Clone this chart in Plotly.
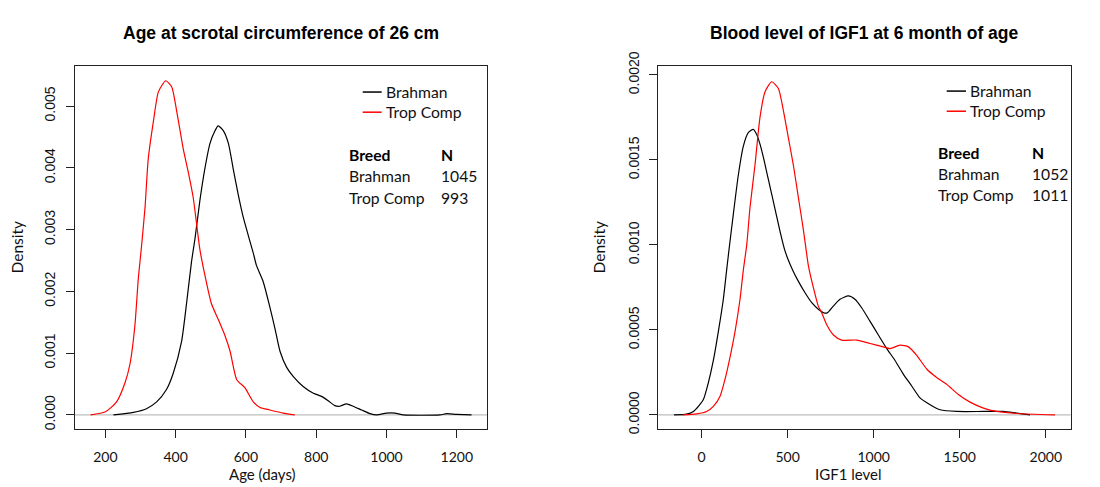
import plotly.graph_objects as go

# ---------------- Data ----------------
# Left panel: Age at scrotal circumference of 26 cm
age_brahman_x = [223, 280, 317, 346, 374, 393, 417, 431, 445, 455, 469, 483, 498, 512, 521,
                 536, 550, 564, 578, 592, 607, 621, 630, 649, 668, 683, 697, 716, 735, 763,
                 792, 815, 834, 853, 867, 886, 905, 929, 953, 972, 1000, 1024, 1048, 1152,
                 1171, 1199, 1242]
age_brahman_y = [0.0, 0.00004, 0.0001, 0.00021, 0.00041, 0.00067, 0.00119, 0.0018, 0.00247,
                 0.00285, 0.00347, 0.00398, 0.0044, 0.0046, 0.00468, 0.0046, 0.0044, 0.00398,
                 0.00357, 0.00321, 0.0029, 0.00262, 0.00242, 0.00216, 0.00175, 0.00139,
                 0.00103, 0.00077, 0.00062, 0.00046, 0.00035, 0.0003, 0.00023, 0.00015,
                 0.00014, 0.00018, 0.00014, 0.00008, 0.00002, 0.0, 0.00003, 0.00003, 0.0,
                 0.0, 0.00002, 0.00001, 0.0]
age_trop_x = [158, 200, 232, 256, 270, 284, 294, 303, 313, 322, 337, 351, 372, 389, 403,
              422, 436, 450, 469, 483, 502, 521, 540, 555, 574, 597, 621, 640, 668, 706, 739]
age_trop_y = [0.0, 0.00005, 0.00021, 0.00052, 0.00082, 0.00144, 0.00222, 0.00273, 0.00336,
              0.00414, 0.00476, 0.00523, 0.00541, 0.00531, 0.00492, 0.0043, 0.00393, 0.00352,
              0.00268, 0.00227, 0.0018, 0.00155, 0.00129, 0.00103, 0.00057, 0.00044, 0.00021,
              0.00012, 0.00008, 0.00003, 0.0]

# Right panel: Blood level of IGF1 at 6 month of age
igf_brahman_x = [-161, -87, -48, -19, 10, 39, 68, 97, 126, 145, 160, 184, 213, 242, 271, 300,
                 320, 340, 360, 380, 400, 420, 440, 460, 480, 500, 530, 560, 600, 640, 680,
                 710, 730, 765, 804, 853, 891, 930, 979, 1027, 1076, 1124, 1172, 1221, 1269,
                 1328, 1386, 1483, 1638, 1754, 1831, 1909]
igf_brahman_y = [0.0, 0.000004, 0.00002, 0.00005, 0.00009, 0.00019, 0.00032, 0.00049, 0.00068,
                 0.00085, 0.00098, 0.00118, 0.00141, 0.00158, 0.00166, 0.00168, 0.00165,
                 0.00159, 0.00151, 0.00142, 0.00133, 0.00124, 0.00115, 0.00106, 0.00098,
                 0.00092, 0.00085, 0.00079, 0.00072, 0.00066, 0.00062, 0.0006, 0.0006,
                 0.00064, 0.00068, 0.0007, 0.00068, 0.00063, 0.00055, 0.00047, 0.00039,
                 0.00032, 0.00024, 0.00017, 0.0001, 0.00006, 0.00003, 0.00002, 0.00002,
                 0.00002, 0.00001, 0.0]
igf_trop_x = [-110, -29, 29, 68, 107, 136, 165, 194, 223, 242, 262, 281, 310, 339, 368, 407,
              446, 475, 504, 533, 562, 591, 610, 620, 649, 678, 698, 727, 766, 814, 901, 979,
              1056, 1095, 1153, 1202, 1250, 1308, 1366, 1424, 1492, 1560, 1638, 1715, 1831,
              2054]
igf_trop_y = [0.0, 0.000006, 0.00002, 0.00005, 0.00011, 0.00021, 0.00034, 0.00049, 0.00068,
              0.00085, 0.001, 0.00122, 0.00147, 0.00175, 0.0019, 0.00196, 0.00192, 0.00179,
              0.00163, 0.00147, 0.00128, 0.00109, 0.00095, 0.00088, 0.00075, 0.00064,
              0.0006, 0.00053, 0.00047, 0.00044, 0.00044, 0.00042, 0.0004, 0.00039,
              0.00041, 0.0004, 0.00035, 0.00027, 0.00022, 0.00018, 0.00012, 0.000075,
              0.00004, 0.00002, 0.000008, 0.0]

breeds = ["Brahman", "Trop Comp"]
age_n = [1045, 993]
igf_n = [1052, 1011]
titles = ["Age at scrotal circumference of 26 cm", "Blood level of IGF1 at 6 month of age"]
x_titles = ["Age (days)", "IGF1 level"]
y_title = "Density"

# ---------------- Layout helpers ----------------
W, H = 1100, 487
OFF = 8  # page body margin shifts the figure by 8px; compensate


def px(x):
    return (x - OFF) / W


def py(y):
    return 1 - (y - OFF) / H


ARIAL = "Liberation Sans, Arial, sans-serif"
CAL = "Lato, Open Sans, sans-serif"
colors = ["#000000", "#FF0000"]

fig = go.Figure()
for xs, ys, col, xa, ya in [
    (age_brahman_x, age_brahman_y, colors[0], "x", "y"),
    (age_trop_x, age_trop_y, colors[1], "x", "y"),
    (igf_brahman_x, igf_brahman_y, colors[0], "x2", "y2"),
    (igf_trop_x, igf_trop_y, colors[1], "x2", "y2"),
]:
    fig.add_trace(go.Scatter(x=xs, y=ys, mode="lines",
                             line=dict(color=col, width=1.2, shape="spline", smoothing=0.6),
                             xaxis=xa, yaxis=ya, showlegend=False, hoverinfo="skip"))

box_top, box_bot = 53.3, 431.3
axis_common = dict(showline=True, mirror=True, linecolor="#222", linewidth=1,
                   ticks="outside", ticklen=8, tickcolor="#222", showgrid=False,
                   zeroline=False)

fig.update_layout(
    width=W, height=H, margin=dict(l=0, r=0, t=0, b=0),
    paper_bgcolor="white", plot_bgcolor="white", showlegend=False,
    xaxis=dict(domain=[px(75), px(487)], range=[113.7, 1286], anchor="y",
               tickvals=[200, 400, 600, 800, 1000, 1200],
               tickfont=dict(family=CAL, size=14, color="#111"), ticklabelstandoff=7,
               **axis_common),
    yaxis=dict(domain=[py(box_bot), py(box_top)], range=[-0.000227, 0.005642], anchor="x",
               tickvals=[0, 0.001, 0.002, 0.003, 0.004, 0.005], tickformat=".3f",
               tickangle=-90, tickfont=dict(family=ARIAL, size=14, color="#111"),
               ticklabelstandoff=5, **axis_common),
    xaxis2=dict(domain=[px(658.3), px(1070.7)], range=[-252, 2145], anchor="y2",
                tickvals=[0, 500, 1000, 1500, 2000],
                tickfont=dict(family=CAL, size=14, color="#111"), ticklabelstandoff=7,
                **axis_common),
    yaxis2=dict(domain=[py(box_bot), py(box_top)], range=[-0.0000827, 0.00205], anchor="x2",
                tickvals=[0, 0.0005, 0.001, 0.0015, 0.002], tickformat=".4f",
                tickangle=-90, tickfont=dict(family=ARIAL, size=14, color="#111"),
                ticklabelstandoff=5, **axis_common),
)

shapes = []
annotations = []
# zero reference lines (gray)
for xr, yr in [("x domain", "y"), ("x2 domain", "y2")]:
    shapes.append(dict(type="line", xref=xr, yref=yr, x0=0, x1=1, y0=0, y1=0,
                       line=dict(color="#BEBEBE", width=1.2), layer="below"))

# titles
for cx, t in zip([281, 864], titles):
    annotations.append(dict(text="<b>%s</b>" % t, x=px(cx), y=py(18), xref="paper", yref="paper",
                            showarrow=False, xanchor="center", yanchor="middle",
                            font=dict(family=ARIAL, size=17.5, color="#000")))
# x titles
for cx, t in zip([262, 847.5], x_titles):
    annotations.append(dict(text=t, x=px(cx), y=py(478), xref="paper", yref="paper",
                            showarrow=False, xanchor="center", yanchor="middle",
                            font=dict(family=CAL, size=15, color="#111")))
# y titles
for cx in [17, 599]:
    annotations.append(dict(text=y_title, x=px(cx), y=py(242), xref="paper", yref="paper",
                            showarrow=False, xanchor="center", yanchor="middle", textangle=-90,
                            font=dict(family=CAL, size=15.5, color="#111")))

# legends
legend_pos = [(362.7, 381.7, 384, [80, 101]), (946.7, 966, 968, [79, 100])]
for (lx0, lx1, tx, ys) in legend_pos:
    for name, col, yy in zip(breeds, colors, ys):
        shapes.append(dict(type="line", xref="paper", yref="paper", x0=px(lx0), x1=px(lx1),
                           y0=py(yy), y1=py(yy), line=dict(color=col, width=1.5)))
        annotations.append(dict(text=name, x=px(tx), y=py(yy), xref="paper", yref="paper",
                                showarrow=False, xanchor="left", yanchor="middle",
                                font=dict(family=CAL, size=15.7, color="#111")))

# tables
table_pos = [(346.7, 439.3, [145.7, 167.7, 190], age_n), (936, 1030, [143.3, 165.3, 187.7], igf_n)]
for (bx, nx, ys, ns) in table_pos:
    for txt, xx in [("<b>Breed</b>", bx), ("<b>N</b>", nx)]:
        annotations.append(dict(text=txt, x=px(xx), y=py(ys[0]), xref="paper", yref="paper",
                                showarrow=False, xanchor="left", yanchor="middle",
                                font=dict(family=CAL, size=15.7, color="#000")))
    for name, n, yy in zip(breeds, ns, ys[1:]):
        annotations.append(dict(text=name, x=px(bx), y=py(yy), xref="paper", yref="paper",
                                showarrow=False, xanchor="left", yanchor="middle",
                                font=dict(family=CAL, size=15.7, color="#111")))
        annotations.append(dict(text=str(n), x=px(nx), y=py(yy), xref="paper", yref="paper",
                                showarrow=False, xanchor="left", yanchor="middle",
                                font=dict(family=CAL, size=15.7, color="#111")))

fig.update_layout(shapes=shapes, annotations=annotations)
fig.write_html("out.html")
